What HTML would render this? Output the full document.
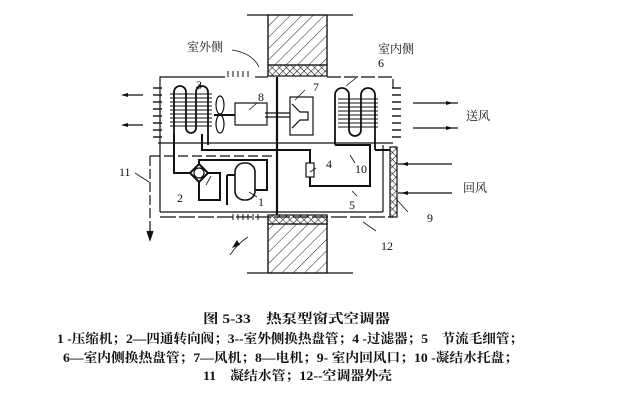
<!DOCTYPE html>
<html><head><meta charset="utf-8"><style>
body{margin:0;background:#fff;width:629px;height:402px;overflow:hidden}
svg{display:block}
text{font-family:"Liberation Serif","Noto Serif CJK SC",serif;fill:#111}
</style></head><body>
<svg width="629" height="402" viewBox="0 0 629 402" xmlns="http://www.w3.org/2000/svg">
<defs>
<pattern id="h" width="8" height="8" patternUnits="userSpaceOnUse" patternTransform="rotate(45)">
<line x1="0" y1="0" x2="0" y2="8" stroke="#222" stroke-width="1"/></pattern>
<pattern id="x" width="5" height="5" patternUnits="userSpaceOnUse" patternTransform="rotate(45)">
<line x1="0" y1="0" x2="0" y2="5" stroke="#222" stroke-width="1.2"/><line x1="0" y1="0" x2="5" y2="0" stroke="#222" stroke-width="1.2"/></pattern>
</defs>
<g stroke="#111" fill="none" stroke-width="1.2">
<line x1="247" y1="15" x2="353" y2="15"/>
<line x1="247" y1="273" x2="353" y2="273"/>
<rect x="268" y="15" width="59" height="50" fill="url(#h)"/>
<rect x="268" y="65" width="59" height="11" fill="url(#x)"/>
<rect x="268" y="215" width="59" height="9" fill="url(#x)"/>
<rect x="268" y="224" width="59" height="49" fill="url(#h)"/>
<line x1="268" y1="15" x2="268" y2="76"/><line x1="327" y1="15" x2="327" y2="76"/>
<line x1="268" y1="215" x2="268" y2="273"/><line x1="327" y1="215" x2="327" y2="273"/>
<polyline points="160,143 160,77 225,77"/>
<line x1="255" y1="77" x2="268" y2="77"/>
<polyline points="327,77 393,77 393,88" stroke-dasharray="14,3"/>
<line x1="160" y1="217" x2="393" y2="217" stroke-dasharray="16,3"/>
<line x1="158" y1="143" x2="393" y2="143"/>
<line x1="160" y1="143" x2="160" y2="212"/>
<line x1="160" y1="212" x2="383" y2="212"/>
<line x1="383" y1="145" x2="383" y2="212"/>
<g stroke-width="1">
<line x1="228" y1="71" x2="228" y2="77"/><line x1="233" y1="71" x2="233" y2="77"/><line x1="238" y1="71" x2="238" y2="77"/><line x1="243" y1="71" x2="243" y2="77"/><line x1="248" y1="71" x2="248" y2="77"/>
<line x1="233" y1="214" x2="233" y2="220"/><line x1="238" y1="214" x2="238" y2="220"/><line x1="243" y1="214" x2="243" y2="220"/><line x1="248" y1="214" x2="248" y2="220"/><line x1="253" y1="214" x2="253" y2="220"/><line x1="258" y1="214" x2="258" y2="220"/>
</g>
<g stroke-width="1.4">
<line x1="153" y1="88" x2="162" y2="88"/><line x1="153" y1="95" x2="162" y2="95"/><line x1="153" y1="102" x2="162" y2="102"/><line x1="153" y1="109" x2="162" y2="109"/><line x1="153" y1="116" x2="162" y2="116"/><line x1="153" y1="123" x2="162" y2="123"/><line x1="153" y1="130" x2="162" y2="130"/><line x1="153" y1="137" x2="162" y2="137"/>
<line x1="392" y1="88" x2="401" y2="88"/><line x1="392" y1="95" x2="401" y2="95"/><line x1="392" y1="102" x2="401" y2="102"/><line x1="392" y1="109" x2="401" y2="109"/><line x1="392" y1="116" x2="401" y2="116"/><line x1="392" y1="123" x2="401" y2="123"/><line x1="392" y1="130" x2="401" y2="130"/><line x1="392" y1="137" x2="401" y2="137"/>
</g>
<line x1="277" y1="77" x2="277" y2="215" stroke-width="2.2"/>
<line x1="265" y1="113" x2="290" y2="113"/><line x1="265" y1="117" x2="290" y2="117"/>
<path d="M174,134 V92 a6,6 0 0 1 12,0 V128 a5,5 0 0 0 10,0 V92 a6,6 0 0 1 12,0 V145" stroke-width="1.8"/>
<g stroke-width="1">
<line x1="170" y1="94" x2="212" y2="94"/><line x1="170" y1="98" x2="212" y2="98"/><line x1="170" y1="102" x2="212" y2="102"/><line x1="170" y1="106" x2="212" y2="106"/><line x1="170" y1="110" x2="212" y2="110"/><line x1="170" y1="114" x2="212" y2="114"/><line x1="170" y1="118" x2="212" y2="118"/><line x1="170" y1="122" x2="212" y2="122"/><line x1="170" y1="126" x2="212" y2="126"/>
</g>
<ellipse cx="220" cy="105" rx="4" ry="9"/><ellipse cx="220" cy="124" rx="4" ry="9"/>
<line x1="214" y1="115" x2="235" y2="115" stroke-width="2"/>
<rect x="235" y="103" width="32" height="22"/>
<rect x="290" y="97" width="23" height="38"/>
<path d="M292,104 L300,112 H308 V120 H300 L292,128"/>
<path d="M335,145 V95 a7,7 0 0 1 14,0 V130 a6,6 0 0 0 12,0 V95 a7,7 0 0 1 14,0 V150" stroke-width="1.8"/>
<g stroke-width="1">
<line x1="338" y1="99" x2="378" y2="99"/><line x1="338" y1="103" x2="378" y2="103"/><line x1="338" y1="107" x2="378" y2="107"/><line x1="338" y1="111" x2="378" y2="111"/><line x1="338" y1="115" x2="378" y2="115"/><line x1="338" y1="119" x2="378" y2="119"/><line x1="338" y1="123" x2="378" y2="123"/><line x1="338" y1="127" x2="378" y2="127"/>
</g>
<g stroke-width="2">
<polyline points="202,134 202,150 310,150 310,163"/>
<polyline points="310,177 310,186 370,186 370,145 335,145"/>
<polyline points="375,150 390,150"/>
<polyline points="174,134 174,173 191,173"/>
<polyline points="199,165 199,160 267,160 267,190 255,190"/>
<polyline points="207,173 220,173 220,200 199,200 199,181"/>
<polyline points="227,175 235,175"/>
<line x1="227" y1="175" x2="227" y2="205"/>
</g>
<path d="M199,164 L208,173 L199,182 L190,173 Z" stroke-width="2"/>
<circle cx="199" cy="173" r="5"/>
<rect x="235" y="163" width="20" height="37" rx="9" stroke-width="1.6"/>
<rect x="306" y="163" width="8" height="14"/>
<rect x="390" y="147" width="7" height="70" fill="url(#x)"/>
<polyline points="150,156 150,237" stroke-dasharray="10,3"/>
<line x1="150" y1="156" x2="275" y2="156" stroke-dasharray="10,4"/>
<path d="M147,231 L150,240 L153,231" fill="#111"/>
<g stroke-width="0.8">
<line x1="135" y1="173" x2="149" y2="182"/>
<line x1="206" y1="185" x2="211" y2="176"/>
<line x1="249" y1="192" x2="257" y2="197"/>
<line x1="196" y1="88" x2="201" y2="84"/>
<line x1="346" y1="86" x2="356" y2="78"/>
<line x1="295" y1="100" x2="305" y2="90"/>
<line x1="249" y1="110" x2="257" y2="103"/>
<line x1="310" y1="172" x2="316" y2="168"/>
<line x1="355" y1="163" x2="350" y2="155"/>
<line x1="357" y1="196" x2="352" y2="191"/>
<line x1="397" y1="200" x2="408" y2="212"/>
<line x1="363" y1="222" x2="376" y2="231"/>
<path d="M232,50 q20,3 27,17"/>
<path d="M230,255 q8,-12 18,-18"/>
</g>
<g stroke-width="1.3">
<line x1="123" y1="95" x2="143" y2="95"/><line x1="123" y1="125" x2="143" y2="125"/>
<line x1="413" y1="103" x2="458" y2="103"/><line x1="413" y1="128" x2="458" y2="128"/>
<line x1="398" y1="164" x2="452" y2="164"/><line x1="398" y1="193" x2="452" y2="193"/>
</g>
</g>
<g fill="#111">
<path d="M121,95 l7,-2 v4z"/><path d="M121,125 l7,-2 v4z"/>
<path d="M453,103 l-7,-2 v4z"/><path d="M453,128 l-7,-2 v4z"/>
<path d="M401,164 l7,-2 v4z"/><path d="M401,193 l7,-2 v4z"/>
<path d="M232,248 l5,-8 l3,5z"/>
</g>
<g font-size="12">
<text x="187" y="51">室外侧</text>
<text x="378" y="53">室内侧</text>
<text x="466" y="120">送风</text>
<text x="463" y="192">回风</text>
<text x="196" y="89">3</text><text x="378" y="67">6</text><text x="313" y="91">7</text><text x="258" y="101">8</text>
<text x="177" y="202">2</text><text x="258" y="206">1</text><text x="326" y="168">4</text><text x="349" y="209">5</text>
<text x="355" y="173">10</text><text x="427" y="222">9</text><text x="381" y="250">12</text><text x="119" y="176">11</text>
</g>
<g font-size="13" font-weight="bold">
<text x="203" y="323" textLength="187" lengthAdjust="spacingAndGlyphs">图 5-33　热泵型窗式空调器</text>
<text x="57" y="343" textLength="466" lengthAdjust="spacingAndGlyphs">1 -压缩机；2—四通转向阀；3--室外侧换热盘管；4 -过滤器；5　节流毛细管；</text>
<text x="63" y="362" textLength="455" lengthAdjust="spacingAndGlyphs">6—室内侧换热盘管；7—风机；8—电机；9- 室内回风口；10 -凝结水托盘；</text>
<text x="203" y="380" textLength="189" lengthAdjust="spacingAndGlyphs">11　凝结水管；12--空调器外壳</text>
</g>
</svg>
</body></html>
